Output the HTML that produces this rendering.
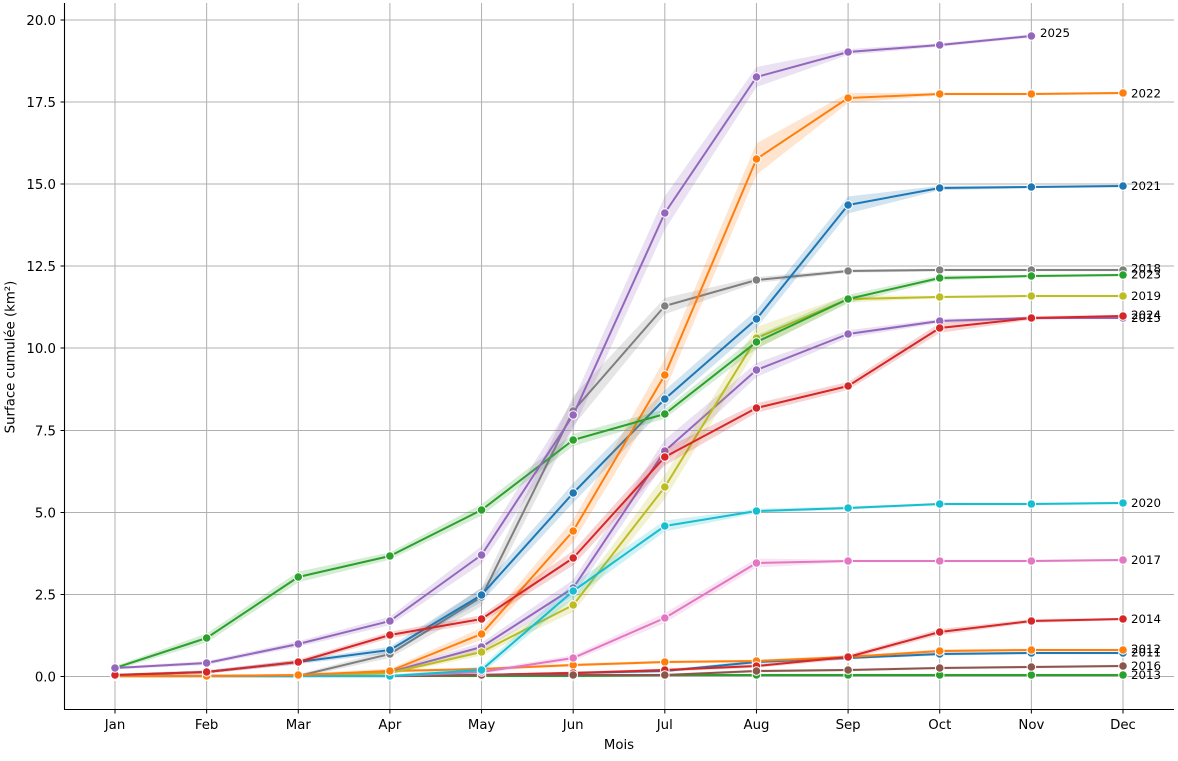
<!DOCTYPE html>
<html>
<head>
<meta charset="utf-8">
<style>
html,body{margin:0;padding:0;background:#fff;}
svg{display:block;}
text{font-family:"DejaVu Sans","Liberation Sans",sans-serif;fill:#000;}
</style>
</head>
<body>
<svg id="s" width="1178" height="761" viewBox="0 0 1178 761" xmlns="http://www.w3.org/2000/svg">
<g id="grid" stroke="#b0b0b0" stroke-width="1" fill="none"></g>
<g id="series"></g>
<g stroke="#000" stroke-width="1.1" fill="none">
<line x1="64.5" y1="3" x2="64.5" y2="709.5"/>
<line x1="64" y1="709.5" x2="1174" y2="709.5"/>
</g>
<g id="ticks" stroke="#000" stroke-width="1" fill="none"></g>
<g font-size="13.3" text-anchor="end">
<text x="56" y="681.5">0.0</text>
<text x="56" y="599.5">2.5</text>
<text x="56" y="517.5">5.0</text>
<text x="56" y="435.5">7.5</text>
<text x="56" y="353">10.0</text>
<text x="56" y="271">12.5</text>
<text x="56" y="189">15.0</text>
<text x="56" y="107">17.5</text>
<text x="56" y="25">20.0</text>
</g>
<g font-size="13.3" text-anchor="middle">
<text x="115" y="729">Jan</text>
<text x="206.6" y="729">Feb</text>
<text x="298.3" y="729">Mar</text>
<text x="389.9" y="729">Apr</text>
<text x="481.6" y="729">May</text>
<text x="573.2" y="729">Jun</text>
<text x="664.8" y="729">Jul</text>
<text x="756.5" y="729">Aug</text>
<text x="848.1" y="729">Sep</text>
<text x="939.8" y="729">Oct</text>
<text x="1031.4" y="729">Nov</text>
<text x="1123" y="729">Dec</text>
<text x="619" y="749">Mois</text>
<text x="0" y="0" transform="translate(14.5,357) rotate(-90)">Surface cumulée (km²)</text>
</g>
<g font-size="11.8">
<text x="1040" y="37">2025</text>
<text x="1131" y="97.5">2022</text>
<text x="1131" y="190">2021</text>
<text x="1131" y="272.5">2018</text>
<text x="1131" y="278.5">2023</text>
<text x="1131" y="300">2019</text>
<text x="1131" y="319">2024</text>
<text x="1131" y="322">2015</text>
<text x="1131" y="507">2020</text>
<text x="1131" y="564">2017</text>
<text x="1131" y="623">2014</text>
<text x="1131" y="653">2012</text>
<text x="1131" y="656.5">2011</text>
<text x="1131" y="670">2016</text>
<text x="1131" y="679">2013</text>
</g>
</svg>
<script>
(function(){
var NS="http://www.w3.org/2000/svg";
function el(n,a,p){var e=document.createElementNS(NS,n);for(var k in a)e.setAttribute(k,a[k]);p.appendChild(e);return e;}
var X=function(i){return 115+i*91.636;};
var grid=document.getElementById('grid'),ticks=document.getElementById('ticks');
for(var i=0;i<12;i++){var x=X(i);el('line',{x1:x,y1:3,x2:x,y2:709},grid);el('line',{x1:x,y1:709.5,x2:x,y2:713.5},ticks);}
var yt=[676.5,594.5,512.5,430.5,348,266,184,102,20];
yt.forEach(function(y){el('line',{x1:64,y1:y,x2:1174,y2:y},grid);el('line',{x1:60.5,y1:y,x2:64.5,y2:y},ticks);});
var S=[
["#1f77b4",[676,676,676,676,675,673,671,662,658,654,653,653]],
["#ff7f0e",[676,676,676,671,669,665,662,661,657,651,650,650]],
["#2ca02c",[676,676,676,676,676,676,675,675,675,675,675,675]],
["#d62728",[676,676,676,676,675,673,670,666,657,632,621,619]],
["#9467bd",[676,676,676,672,647,588,451,370,334,321,318,318]],
["#8c564b",[676,676,676,676,675,675,675,671,670,668,667,666]],
["#e377c2",[676,676,676,676,672,658,618,563,561,561,561,560]],
["#7f7f7f",[676,676,676,654,597,411,306,280,271,270,270,270]],
["#bcbd22",[676,676,676,673,652,605,487,338,299,297,296,296]],
["#17becf",[676,676,676,676,670,591,526,511,508,504,504,503]],
["#1f77b4",[675,672,662,650,595,493,399,319,205,188,187,186]],
["#ff7f0e",[676,676,675,671,634,531,375,159,98,94,94,93]],
["#2ca02c",[668,638,577,556,510,440,414,342,299,278,276,275]],
["#d62728",[675,672,662,635,619,558,457,408,386,328,318,316]],
["#9467bd",[668,663,644,621,555,415,213,77,52,45,36]]
];
var g=document.getElementById('series');
S.forEach(function(s){
 var c=s[0],v=s[1],n=v.length,h=[];
 for(var i=0;i<n;i++){
  var dp=i>0?Math.abs(v[i]-v[i-1]):0, dn=i<n-1?Math.abs(v[i+1]-v[i]):0;
  h.push(1.2+0.06*dp+0.025*dn);
 }
 var up=[],dn2=[];
 for(var i=0;i<n;i++){up.push(X(i).toFixed(1)+","+(v[i]-h[i]).toFixed(1));}
 for(var i=n-1;i>=0;i--){dn2.push(X(i).toFixed(1)+","+(v[i]+h[i]).toFixed(1));}
 el('polygon',{points:up.concat(dn2).join(" "),fill:c,'fill-opacity':0.2,stroke:'none'},g);
 var pts=[];for(var i=0;i<n;i++)pts.push(X(i).toFixed(1)+","+v[i]);
 el('polyline',{points:pts.join(" "),fill:'none',stroke:c,'stroke-width':2,'stroke-linejoin':'round','stroke-linecap':'round'},g);
 for(var i=0;i<n;i++)el('circle',{cx:X(i),cy:v[i],r:4.3,fill:c,stroke:'#fff','stroke-width':1},g);
});
})();
</script>
</body>
</html>
